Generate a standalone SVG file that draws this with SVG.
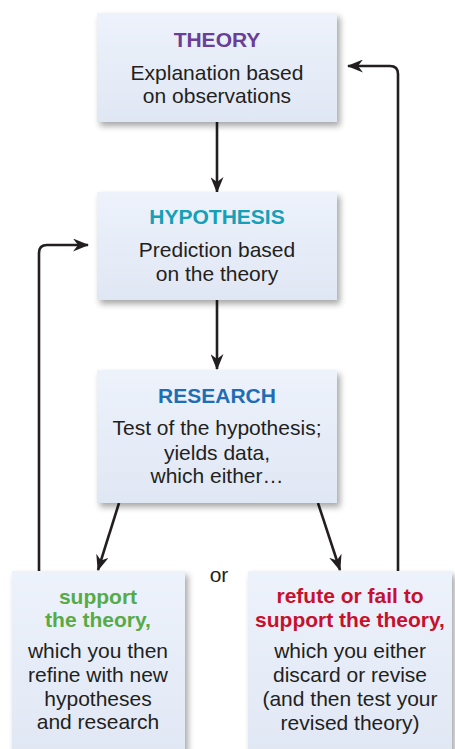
<svg xmlns="http://www.w3.org/2000/svg" width="455" height="749" viewBox="0 0 455 749">
<style>
.box{fill:url(#g);filter:url(#sh)}
.t{font-family:"Liberation Sans",Arial,sans-serif;font-size:21px;text-anchor:middle;fill:#231f20}
.b{font-weight:bold}
.c{fill:none;stroke:#231f20;stroke-width:2.6;marker-end:url(#ah)}
</style>
<defs>
<linearGradient id="g" x1="0" y1="0" x2="0" y2="1">
<stop offset="0" stop-color="#edf2fb"/>
<stop offset="1" stop-color="#e0e7f4"/>
</linearGradient>
<filter id="sh" x="-10%" y="-10%" width="125%" height="130%">
<feDropShadow dx="3" dy="4" stdDeviation="3" flood-color="#000" flood-opacity="0.35"/>
</filter>
<marker id="ah" viewBox="0 0 16 13" refX="15" refY="6.5" markerWidth="16" markerHeight="13" markerUnits="userSpaceOnUse" orient="auto">
<path d="M0,0 L16,6.5 L0,13 L5,6.5 Z" fill="#231f20"/>
</marker>
</defs>
<rect width="455" height="749" fill="#fff"/>
<g id="connectors">
<line class="c" x1="217" y1="122" x2="217" y2="192"/>
<line class="c" x1="217" y1="300" x2="217" y2="369"/>
<line class="c" x1="119" y1="503" x2="98" y2="570"/>
<line class="c" x1="318" y1="503" x2="340" y2="570"/>
<path class="c" d="M39,571 V253 Q39,245 47,245 H88"/>
<path class="c" d="M398,571 V74 Q398,66 390,66 H348"/>
</g>
<g id="theory">
<rect class="box" x="97" y="13" width="240" height="109"/>
<text class="t b" x="217" y="47" style="fill:#6a3d97">THEORY</text>
<text class="t" x="217" y="80">Explanation based</text>
<text class="t" x="217" y="103">on observations</text>
</g>
<g id="hypothesis">
<rect class="box" x="97" y="192" width="240" height="108"/>
<text class="t b" x="217" y="224" style="fill:#14a0b8">HYPOTHESIS</text>
<text class="t" x="217" y="257">Prediction based</text>
<text class="t" x="217" y="281">on the theory</text>
</g>
<g id="research">
<rect class="box" x="97" y="370" width="240" height="133"/>
<text class="t b" x="217" y="403" style="fill:#1e6db5">RESEARCH</text>
<text class="t" x="217" y="435">Test of the hypothesis;</text>
<text class="t" x="217" y="460">yields data,</text>
<text class="t" x="217" y="483">which either…</text>
</g>
<text class="t" x="219" y="582">or</text>
<g id="support">
<rect class="box" x="12" y="571" width="173" height="190"/>
<text class="t b" x="98" y="604" style="fill:#56ab47">support</text>
<text class="t b" x="98" y="627" style="fill:#56ab47">the theory,</text>
<text class="t" x="98" y="658">which you then</text>
<text class="t" x="98" y="682">refine with new</text>
<text class="t" x="98" y="706">hypotheses</text>
<text class="t" x="98" y="729">and research</text>
</g>
<g id="refute">
<rect class="box" x="248" y="571" width="204" height="190"/>
<text class="t b" x="350" y="603" style="fill:#c8102e">refute or fail to</text>
<text class="t b" x="350" y="627" style="fill:#c8102e">support the theory,</text>
<text class="t" x="350" y="658">which you either</text>
<text class="t" x="350" y="682">discard or revise</text>
<text class="t" x="350" y="706">(and then test your</text>
<text class="t" x="350" y="730">revised theory)</text>
</g>
</svg>
